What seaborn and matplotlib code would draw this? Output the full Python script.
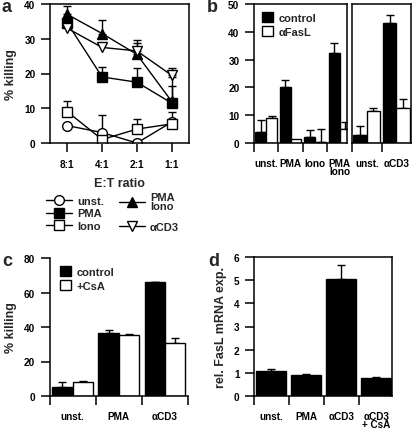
import matplotlib
matplotlib.use("Agg")
import matplotlib.pyplot as plt
import numpy as np
import pandas as pd
import seaborn as sns

# panel a: killing vs E:T ratio
ratios = ["8:1", "4:1", "2:1", "1:1"]
a_series = ["unst.", "PMA", "Iono", "PMA\nIono", "αCD3"]
a_unst = [5, 3, 0, 6]
a_unst_err = [0, 5, 0, 3]
a_pma = [34.5, 19, 17.5, 11.5]
a_pma_err = [0, 3, 4, 4.8]
a_iono = [9, 1, 4, 5.5]
a_iono_err = [3, 0, 3, 0]
a_pmaiono = [37, 31.5, 25.5, 12]
a_pmaiono_err = [2.5, 4, 3.2, 7]
a_cd3 = [33, 27.5, 26.5, 19.5]
a_cd3_err = [0, 0, 3, 2]

# panel b: control vs anti-FasL
b1_cats = ["unst.", "PMA", "Iono", "PMA\nIono"]
b1_control = [4, 20, 2, 32.5]
b1_control_err = [4.3, 2.5, 2.8, 3.5]
b1_fasl = [9, 1.5, 0.2, 5.2]
b1_fasl_err = [0.7, 0, 5.0, 2.4]
b2_cats = ["unst.", "αCD3"]
b2_control = [3, 43]
b2_control_err = [3, 3]
b2_fasl = [11.5, 12.5]
b2_fasl_err = [1, 3.5]

# panel c: control vs CsA
c_cats = ["unst.", "PMA", "αCD3"]
c_control = [5.5, 36.5, 66]
c_control_err = [2.5, 1.5, 0.3]
c_csa = [8.3, 35.5, 30.5]
c_csa_err = [0.5, 0.5, 3]

# panel d: FasL mRNA
d_cats = ["unst.", "PMA", "αCD3", "αCD3\n+ CsA"]
d_vals = [1.1, 0.92, 5.05, 0.78]
d_err = [0.05, 0.04, 0.6, 0.03]

sns.set_style("ticks")
plt.rcParams["font.family"] = ["Liberation Sans", "DejaVu Sans"]
plt.rcParams["font.weight"] = "bold"
plt.rcParams["font.size"] = 7.2
plt.rcParams["axes.linewidth"] = 1.1
plt.rcParams["xtick.major.width"] = 1.1
plt.rcParams["ytick.major.width"] = 1.1
plt.rcParams["xtick.minor.width"] = 1.1
plt.rcParams["xtick.major.size"] = 6.5
plt.rcParams["ytick.major.size"] = 6.5
plt.rcParams["xtick.minor.size"] = 6.5
plt.rcParams["ytick.major.pad"] = 4
plt.rcParams["xtick.color"] = "black"
plt.rcParams["ytick.color"] = "black"
plt.rcParams["axes.edgecolor"] = "black"

W, H = 413, 435
fig = plt.figure(figsize=(W / 100, H / 100), dpi=100)
LAB = dict(fontsize=9, fontweight="bold")


def box(l, t, r, b):
    return [l / W, (H - b) / H, (r - l) / W, (b - t) / H]


def up_errors(ax, xs, ys, errs):
    xs, ys, errs = np.asarray(xs), np.asarray(ys), np.asarray(errs)
    keep = errs > 0
    ax.errorbar(xs[keep], ys[keep], yerr=[np.zeros(keep.sum()), errs[keep]],
                fmt="none", ecolor="black", elinewidth=1, capsize=3,
                capthick=1, zorder=1)


def bars(ax, cats, groups, vals, errs, width, legend):
    df = pd.DataFrame({
        "cat": sum([[c] * len(groups) for c in cats], []),
        "grp": groups * len(cats),
        "val": sum([[v[i] for v in vals] for i in range(len(cats))], []),
    })
    sns.barplot(data=df, x="cat", y="val", hue="grp", order=cats, hue_order=groups,
                palette=["black", "white"][:len(groups)], saturation=1,
                edgecolor="black", linewidth=1, width=width, gap=0, ax=ax,
                legend=legend, errorbar=None, zorder=2)
    for cont, err in zip(ax.containers, errs):
        xs = [p.get_x() + p.get_width() / 2 for p in cont]
        ys = [p.get_height() for p in cont]
        up_errors(ax, xs, ys, err)


def bar_xaxis(ax, n, right):
    ax.set_xlim(-0.5, right)
    ax.set_xticks(np.arange(n))
    ax.tick_params(axis="x", which="major", length=0, pad=10.5)
    ax.set_xticks(np.arange(n) - 0.5, minor=True)
    ax.tick_params(axis="x", which="minor", direction="out")
    for t in ax.get_xticklabels():
        t.set_linespacing(0.85)
    ax.set_xlabel("")
    ax.set_ylabel("")


def small_legend(ax, anchor):
    ax.legend(loc="upper left", bbox_to_anchor=anchor, frameon=False,
              handlelength=1.0, handleheight=1.0, handletextpad=0.5,
              labelspacing=0.3, fontsize=8, borderaxespad=0.3)


# ---- panel a
ax = fig.add_axes(box(50, 5, 189, 144))
a_vals = [a_unst, a_pma, a_iono, a_pmaiono, a_cd3]
a_errs = [a_unst_err, a_pma_err, a_iono_err, a_pmaiono_err, a_cd3_err]
a_markers = ["o", "s", "s", "^", "v"]
a_faces = ["white", "black", "white", "black", "white"]
for name, vals, m, fc in zip(a_series, a_vals, a_markers, a_faces):
    sns.pointplot(x=ratios, y=vals, ax=ax, color="black", marker=m,
                  markerfacecolor=fc, markeredgecolor="black", markersize=7,
                  markeredgewidth=1, linewidth=1, errorbar=None, label=name)
for vals, errs in zip(a_vals, a_errs):
    up_errors(ax, np.arange(len(ratios)), vals, errs)
ax.set_xlim(-0.5, 3.5)
ax.set_ylim(0, 40)
ax.set_yticks([0, 10, 20, 30, 40])
ax.tick_params(axis="x", pad=5)
ax.set_ylabel("% killing", labelpad=5, **LAB)
ax.set_xlabel("E:T ratio", labelpad=6, **LAB)

# legend below panel a: two separate columns
handles, labels = ax.get_legend_handles_labels()
if ax.get_legend() is not None:
    ax.get_legend().remove()
leg_kw = dict(loc="upper left", frameon=False, handlelength=2.3, handletextpad=0.5,
              fontsize=8, borderaxespad=0, borderpad=0)
leg1 = fig.legend(handles[:3], labels[:3], bbox_to_anchor=(46 / W, 1 - 197 / H),
                  labelspacing=0.22, **leg_kw)
leg2 = fig.legend(handles[3:], labels[3:], bbox_to_anchor=(119 / W, 1 - 193 / H),
                  labelspacing=0.95, **leg_kw)
for t in leg2.get_texts():
    t.set_linespacing(0.9)

# ---- panel b
ax1 = fig.add_axes(box(254, 5, 347, 144))
bars(ax1, b1_cats, ["control", "αFasL"], [b1_control, b1_fasl],
     [b1_control_err, b1_fasl_err], 0.88, True)
bar_xaxis(ax1, 4, 3.3)
ax1.set_ylim(0, 50)
ax1.set_yticks([0, 10, 20, 30, 40, 50])
small_legend(ax1, (0.0, 1.0))

ax2 = fig.add_axes(box(352, 5, 411, 144))
bars(ax2, b2_cats, ["control", "αFasL"], [b2_control, b2_fasl],
     [b2_control_err, b2_fasl_err], 0.9, False)
bar_xaxis(ax2, 2, 1.5)
ax2.set_ylim(0, 50)
ax2.set_yticks([])

# ---- panel c
axc = fig.add_axes(box(49.5, 259, 188, 397))
bars(axc, c_cats, ["control", "+CsA"], [c_control, c_csa],
     [c_control_err, c_csa_err], 0.88, True)
bar_xaxis(axc, 3, 2.5)
axc.set_xticks([-0.5, 0.5, 1.5, 2.5], minor=True)
axc.set_ylim(0, 80)
axc.set_yticks([0, 20, 40, 60, 80])
axc.set_ylabel("% killing", labelpad=5, **LAB)
small_legend(axc, (0.02, 1.0))
sns.despine(ax=axc)

# ---- panel d
axd = fig.add_axes(box(254, 258, 392, 397))
bars(axd, d_cats, ["FasL"], [d_vals], [d_err], 0.86, False)
bar_xaxis(axd, 4, 3.45)
axd.set_xticks([-0.5, 0.5, 1.5, 2.5], minor=True)
axd.set_ylim(0, 6)
axd.set_yticks([0, 1, 2, 3, 4, 5, 6])
axd.set_ylabel("rel. FasL mRNA exp.", labelpad=5, **LAB)

for lab, x, y in [("a", 2, 8), ("b", 207, 8), ("c", 2, 262), ("d", 208, 262)]:
    fig.text(x / W, 1 - y / H, lab, fontsize=13, fontweight="bold", va="center")

fig.savefig("out.png", dpi=100)
